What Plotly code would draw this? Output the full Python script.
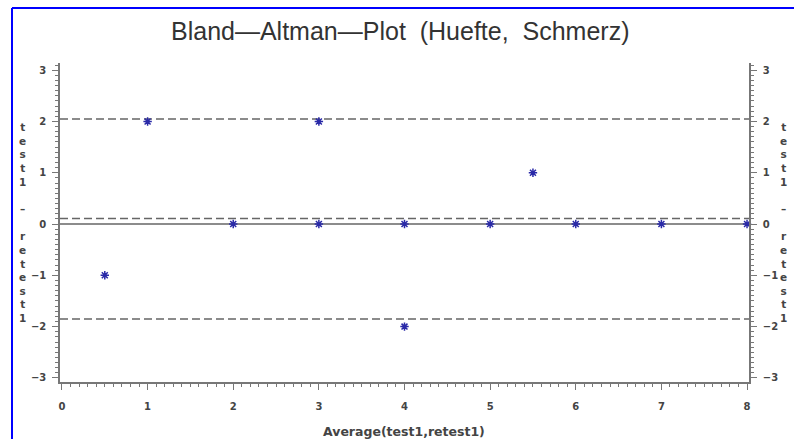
import plotly.graph_objects as go

# Bland-Altman data: mean of test/retest vs. their difference
avg_vals = [0.5, 1, 2, 3, 3, 4, 4, 5, 5.5, 6, 7, 8]
diff_vals = [-1, 2, 0, 2, 0, 0, -2, 0, 1, 0, 0, 0]

mean_diff = 0.11
upper_loa = 2.05
lower_loa = -1.85
zero_line = 0

x_ticks = [0, 1, 2, 3, 4, 5, 6, 7, 8]
y_ticks = [-3, -2, -1, 0, 1, 2, 3]

title_text = "Bland\u2014Altman\u2014Plot\u00a0\u00a0(Huefte,\u00a0\u00a0Schmerz)"
x_title = "Average(test1,retest1)"
y_title_chars = ["t", "e", "s", "t", "1", "\u00a0", "\u2013", "\u00a0", "r", "e", "t", "e", "s", "t", "1"]

W, H = 794, 439
L, R, T, B = 60, 45, 63, 57
PW, PH = W - L - R, H - T - B


def px_x(p):
    return (p - L) / PW


def px_y(p):
    return (H - B - p) / PH


axis_col = "#777777"
tick_font = dict(family="DejaVu Sans", size=10, color="#444444", weight="bold")

fig = go.Figure()
fig.add_trace(go.Scatter(
    x=avg_vals, y=diff_vals, mode="markers",
    marker=dict(symbol="asterisk-open", size=7, color="#2a2aa8",
                line=dict(color="#2a2aa8", width=1.5)),
    cliponaxis=False, showlegend=False,
))
# invisible trace so the right-hand axis is drawn
fig.add_trace(go.Scatter(x=[avg_vals[0]], y=[diff_vals[0]], yaxis="y2",
                         mode="markers", marker=dict(opacity=0),
                         showlegend=False, hoverinfo="skip"))

shapes = []
for yv, dash in [(upper_loa, "8px,4px"), (mean_diff, "8px,4px"),
                 (lower_loa, "8px,4px"), (zero_line, "solid")]:
    shapes.append(dict(type="line", xref="paper", yref="y", x0=0, x1=1,
                       y0=yv, y1=yv, layer="below",
                       line=dict(color="#666666", width=1.5, dash=dash)))
# blue frame
shapes.append(dict(type="line", xref="paper", yref="paper",
                   x0=px_x(12), x1=px_x(12), y0=px_y(8), y1=px_y(460),
                   line=dict(color="#0000ff", width=2)))
shapes.append(dict(type="line", xref="paper", yref="paper",
                   x0=px_x(12), x1=px_x(820), y0=px_y(8), y1=px_y(8),
                   line=dict(color="#0000ff", width=2)))

yax = dict(range=[-3.08, 3.14], tickvals=y_ticks, showgrid=False, zeroline=False,
           showline=True, linecolor=axis_col, linewidth=1.5,
           ticks="outside", ticklen=6, tickwidth=1.2, tickcolor=axis_col,
           minor=dict(dtick=0.1, ticks="outside", ticklen=3, tickcolor=axis_col, tickwidth=1),
           tickfont=tick_font, ticklabelstandoff=4)

annotations = [
    dict(text=title_text, xref="paper", yref="paper", x=px_x(400), y=px_y(31),
         showarrow=False, xanchor="center", yanchor="middle",
         font=dict(family="Liberation Sans", size=25, color="#333333")),
    dict(text=x_title, xref="paper", yref="paper", x=px_x(404), y=px_y(431),
         showarrow=False, xanchor="center", yanchor="middle",
         font=dict(family="DejaVu Sans", size=12.5, color="#444444", weight="bold")),
]
y_title = "<br>".join(y_title_chars)
for xp in (22, 784):
    annotations.append(dict(text=y_title, xref="paper", yref="paper",
                            x=px_x(xp), y=px_y(223), showarrow=False,
                            xanchor="center", yanchor="middle",
                            font=dict(family="DejaVu Sans", size=10.5,
                                      color="#444444", weight="bold")))

fig.update_layout(
    width=W, height=H,
    margin=dict(l=L, r=R, t=T, b=B),
    paper_bgcolor="white", plot_bgcolor="white",
    xaxis=dict(range=[-0.023, 8.023], tickvals=x_ticks, showgrid=False,
               zeroline=False, showline=True, linecolor=axis_col, linewidth=1.5,
               ticks="outside", ticklen=6, tickwidth=1.2, tickcolor=axis_col,
               minor=dict(dtick=0.1, ticks="outside", ticklen=3, tickcolor=axis_col, tickwidth=1),
               tickfont=tick_font, ticklabelstandoff=8),
    yaxis=yax,
    yaxis2=dict(yax, overlaying="y", side="right", matches="y"),
    shapes=shapes,
    annotations=annotations,
)

fig.write_html("out.html")
